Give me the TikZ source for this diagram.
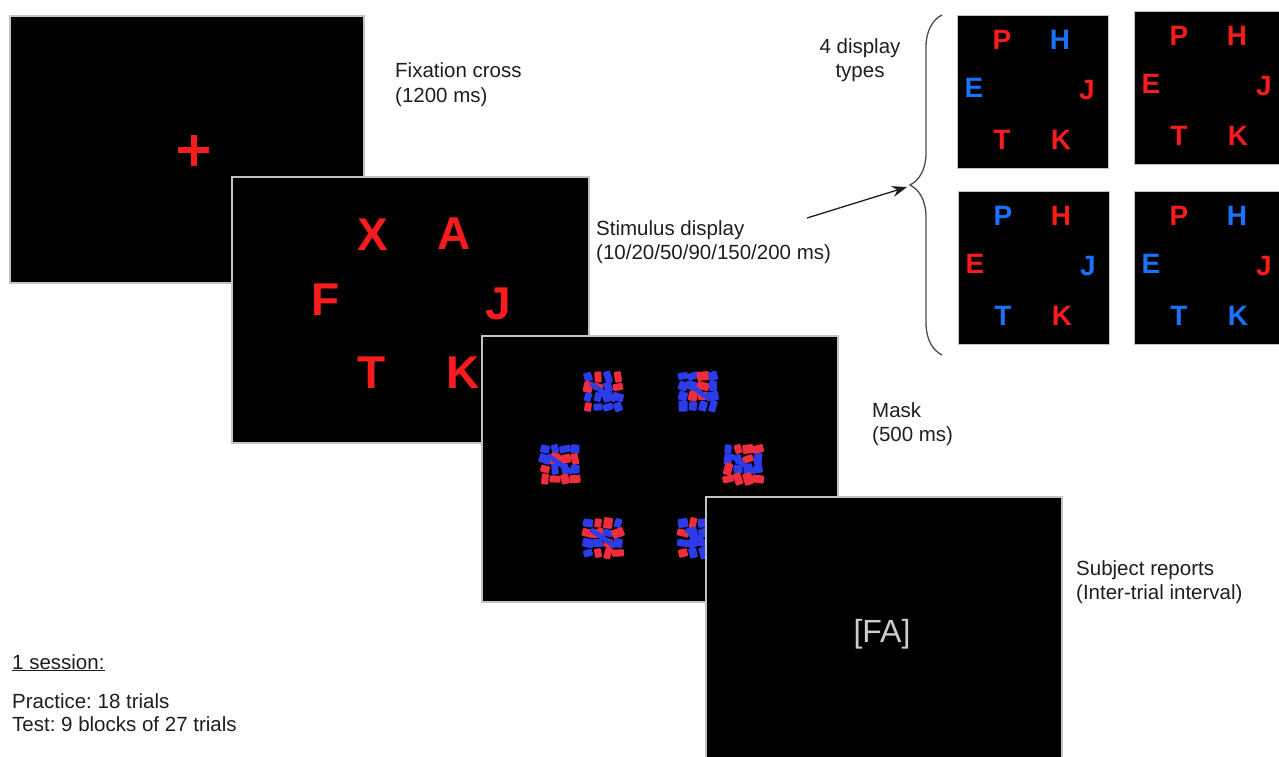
\documentclass[tikz,border=0pt]{standalone}
\usepackage{fontspec}
\setmainfont{Liberation Sans}
\usetikzlibrary{decorations.pathreplacing,arrows.meta}
\frenchspacing

\definecolor{lred}{RGB}{250,28,28}
\definecolor{lblue}{RGB}{25,115,255}
\definecolor{mred}{RGB}{240,45,60}
\definecolor{mblue}{RGB}{45,60,235}
\definecolor{rim}{RGB}{195,195,195}
\definecolor{ink}{RGB}{30,30,30}
\definecolor{fagrey}{RGB}{205,205,205}

\tikzset{
  screen/.style={fill=black, draw=rim, line width=1.8pt, inner sep=0pt,
    minimum width=356pt, minimum height=266pt},
  dbox/.style={fill=black, draw=rim, line width=1.2pt, inner sep=0pt,
    minimum width=151pt, minimum height=153pt, anchor=north west},
  bigletter/.style={font=\bfseries\fontsize{46}{46}\selectfont, text=lred, inner sep=0pt},
  smallletter/.style={font=\bfseries\fontsize{28}{28}\selectfont, inner sep=0pt},
  caption/.style={font=\fontsize{20.5}{24.5}\selectfont, text=ink, align=left,
    inner sep=0pt, anchor=base west},
  bracestyle/.style={draw=ink!80, line width=1.3pt, decorate,
    decoration={brace, amplitude=32pt, aspect=0.5}},
  pointer/.style={draw=ink, line width=1.3pt, -{Stealth[length=15pt,width=11pt]}},
}

% one scrambled patch of the mask: chunky red/blue blocks on a 4x4 grid,
% each lying either flat or upright
\newcommand\maskpatch[3]{%
  \pgfmathsetseed{#3}%
  \foreach \i in {0,...,3}{%
    \foreach \j in {0,...,3}{%
      \pgfmathrandominteger{\pc}{0}{1}%
      \pgfmathrandominteger{\po}{0}{1}%
      \pgfmathrandominteger{\pr}{-20}{20}%
      \pgfmathrandominteger{\pw}{9}{12}%
      \pgfmathrandominteger{\ph}{7}{9}%
      \pgfmathsetmacro\pa{\pr+90*\po}%
      \ifnum\pc=0 \def\pcol{mred}\else\def\pcol{mblue}\fi
      \fill[\pcol, rounded corners=1pt, shift={(#1-15+10*\i,#2-15+10*\j)}, rotate=\pa]
        (-\pw/2,-\ph/2) rectangle (\pw/2,\ph/2);
    }%
  }%
  \fill[mblue, shift={(#1,#2)}, rotate=-35] (-15,-2.5) rectangle (15,2.5);
}

% one of the four small displays: name, top-left corner, colours of P H E J T K
\newcommand\dispbox[9]{%
  \node[dbox] (#1) at (#2,#3) {};
  \node[smallletter, text=#4] (#1-P) at (#2+45,#3+25) {P};
  \node[smallletter, text=#5] (#1-H) at (#2+103,#3+25) {H};
  \node[smallletter, text=#6] (#1-E) at (#2+17,#3+73) {E};
  \node[smallletter, text=#7] (#1-J) at (#2+130,#3+75) {J};
  \node[smallletter, text=#8] (#1-T) at (#2+45,#3+125) {T};
  \node[smallletter, text=#9] (#1-K) at (#2+104,#3+125) {K};
}

\begin{document}
\begin{tikzpicture}[x=1pt,y=-1pt]
\useasboundingbox (0,0) rectangle (1279,756);

% --- fixation screen ---
\node[screen, minimum width=354pt, minimum height=267pt] (fix) at (187,149.5) {};
\draw[lred, line width=6pt] (178,150) -- (209,150) (193.5,135) -- (193.5,166);

% --- stimulus screen ---
\node[screen, minimum width=357pt] (stim) at (410.5,310) {};
\node[bigletter] (sX) at (373,235) {X};
\node[bigletter] (sA) at (454,234) {A};
\node[bigletter] (sF) at (326,300) {F};
\node[bigletter] (sJ) at (498,304) {J};
\node[bigletter] (sT) at (372,373) {T};
\node[bigletter] (sK) at (463,373) {K};

% --- mask screen ---
\node[screen] (mask) at (660,469) {};
\maskpatch{603}{392}{11}
\maskpatch{698}{391}{23}
\maskpatch{560}{464}{37}
\maskpatch{743}{464}{41}
\maskpatch{603}{538}{53}
\maskpatch{698}{538}{67}

% --- response screen ---
\node[screen] (resp) at (884,630) {};
\node[font=\fontsize{32}{32}\selectfont, text=fagrey, inner sep=0pt] (fa) at (882,634) {[FA]};

% --- captions (anchored at the baseline of their last line) ---
\node[caption] (capfix) at (395,102) {Fixation cross\\(1200 ms)};
\node[caption] (capstim) at (596,259.5) {Stimulus display\\(10/20/50/90/150/200 ms)};
\node[caption] (capmask) at (872,441.5) {Mask\\(500 ms)};
\node[caption] (capresp) at (1076,599.5) {Subject reports\\(Inter-trial interval)};
\node[caption] (session) at (12,669) {\underline{1 session:}};
\node[caption, font=\fontsize{20.5}{23}\selectfont] (trials) at (12,731) {Practice: 18 trials\\Test: 9 blocks of 27 trials};

% --- display types ---
\node[font=\fontsize{20.5}{24}\selectfont, text=ink, align=center, inner sep=0pt,
  anchor=base] (types) at (860,77) {4 display\\types};
\dispbox{dA}{957}{15}{lred}{lblue}{lblue}{lred}{lred}{lred}
\dispbox{dB}{1134}{11}{lred}{lred}{lred}{lred}{lred}{lred}
\dispbox{dC}{958}{191}{lblue}{lred}{lred}{lblue}{lblue}{lred}
\dispbox{dD}{1134}{191}{lred}{lblue}{lblue}{lred}{lblue}{lblue}

\coordinate (bracebot) at (942,355);
\coordinate (bracetop) at (942,15);
\coordinate (bracetip) at (907,187);
\coordinate (arrstart) at (807,218);
\draw[bracestyle] (bracebot) -- (bracetop);
\draw[pointer] (arrstart) -- (bracetip);
\end{tikzpicture}
\end{document}
